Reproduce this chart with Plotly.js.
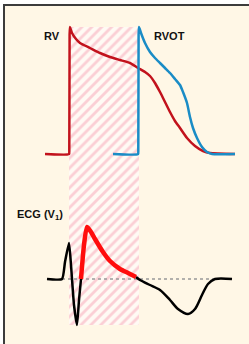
<!DOCTYPE html>
<html><head><meta charset="utf-8">
<script src="https://cdn.plot.ly/plotly-3.0.1.min.js"></script>
<style>html,body{margin:0;padding:0;background:#fff;}#c{width:249px;height:344px;}</style>
</head><body><div id="c"></div>
<script>
// Action potential: RV (screen-pixel units, y downward)
const rvX = [45, 69, 69.3, 69.6, 70, 72, 76, 80, 90, 100, 110, 120, 130, 138, 145, 150, 155, 160, 165, 170, 175, 180, 187, 195, 203, 210, 235];
const rvY = [154, 154, 150, 35, 27, 33, 39, 43, 48, 53, 57, 60, 63, 68, 72, 76, 83, 92, 102, 112, 121, 128, 138, 146, 151, 153, 154];
// Action potential: RVOT
const rvotX = [113, 138, 138.3, 138.6, 139, 141, 145, 150, 155, 160, 165, 170, 175, 180, 183, 187, 190, 193, 197, 202, 207, 212, 235];
const rvotY = [154, 154, 150, 35, 27, 33, 43, 52, 58, 63, 68, 73, 79, 85, 92, 103, 117, 128, 138, 147, 152, 154, 154];
// ECG V1 trace (black parts)
const ecgQrsX = [47, 62, 65, 69, 71, 74, 77, 79, 81];
const ecgQrsY = [279, 279, 262, 243, 265, 305, 325, 300, 279];
const ecgStX = [81, 84, 87, 91, 95, 103, 110, 120, 128, 136];
const ecgStY = [279, 245, 227, 232, 239, 252, 261, 269, 273, 277];
const ecgTX = [136, 140, 150, 160, 170, 178, 188, 195, 202, 208, 215, 232];
const ecgTY = [277, 280, 285, 290, 300, 309, 314, 309, 295, 284, 279, 279];
// Isoelectric baseline
const baseX = [62, 215];
const baseY = [279, 279];
// Hatched window
const hatchX = [69, 139, 139, 69, 69];
const hatchY = [27, 27, 325, 325, 27];

const traces = [
  {x: hatchX, y: hatchY, mode: 'lines', fill: 'toself', line: {width: 0, color: 'rgba(0,0,0,0)'},
   fillcolor: 'rgba(255,250,244,1)',
   fillpattern: {shape: '/', fgcolor: '#fbcfd5', bgcolor: '#fffaf4', size: 7, solidity: 0.4, fillmode: 'replace'},
   hoverinfo: 'skip'},
  {x: baseX, y: baseY, mode: 'lines', line: {color: '#999999', width: 1.3, dash: 'dot'}},
  {x: rvX, y: rvY, mode: 'lines', line: {color: '#c2121c', width: 2.5, shape: 'spline', smoothing: 0.5}},
  {x: rvotX, y: rvotY, mode: 'lines', line: {color: '#1a8cc6', width: 2.5, shape: 'spline', smoothing: 0.5}},
  {x: ecgQrsX, y: ecgQrsY, mode: 'lines', line: {color: '#000000', width: 2.5, shape: 'spline', smoothing: 0.5}},
  {x: ecgTX, y: ecgTY, mode: 'lines', line: {color: '#000000', width: 2.5, shape: 'spline', smoothing: 0.8}},
  {x: ecgStX, y: ecgStY, mode: 'lines', line: {color: '#ff0d0d', width: 4.5, shape: 'spline', smoothing: 0.6}}
];

const layout = {
  width: 249, height: 344, margin: {l: 0, r: 0, t: 0, b: 0},
  paper_bgcolor: '#ffffff', plot_bgcolor: '#ffffff', showlegend: false,
  xaxis: {range: [0, 249], visible: false, fixedrange: true},
  yaxis: {range: [344, 0], visible: false, fixedrange: true},
  shapes: [
    {type: 'rect', xref: 'x', yref: 'y', x0: 4, x1: 249, y0: 5, y1: 344, fillcolor: '#fff7e6', line: {width: 0}, layer: 'below'},
    {type: 'line', xref: 'x', yref: 'y', x0: 4, x1: 4, y0: 4, y1: 344, line: {color: '#3c3c3c', width: 2}},
    {type: 'line', xref: 'x', yref: 'y', x0: 3, x1: 249, y0: 5, y1: 5, line: {color: '#3c3c3c', width: 2}}
  ],
  annotations: [
    {text: '<b>RV</b>', x: 52, y: 36, xref: 'x', yref: 'y', showarrow: false, font: {family: 'Liberation Sans, Arial', size: 11, color: '#111'}},
    {text: '<b>RVOT</b>', x: 169, y: 36, xref: 'x', yref: 'y', showarrow: false, font: {family: 'Liberation Sans, Arial', size: 11, color: '#111'}},
    {text: '<b>ECG (V<sub>1</sub>)</b>', x: 40, y: 215, xref: 'x', yref: 'y', showarrow: false, font: {family: 'Liberation Sans, Arial', size: 11, color: '#111'}}
  ]
};
Plotly.newPlot('c', traces, layout, {displayModeBar: false, staticPlot: true});
</script></body></html>
